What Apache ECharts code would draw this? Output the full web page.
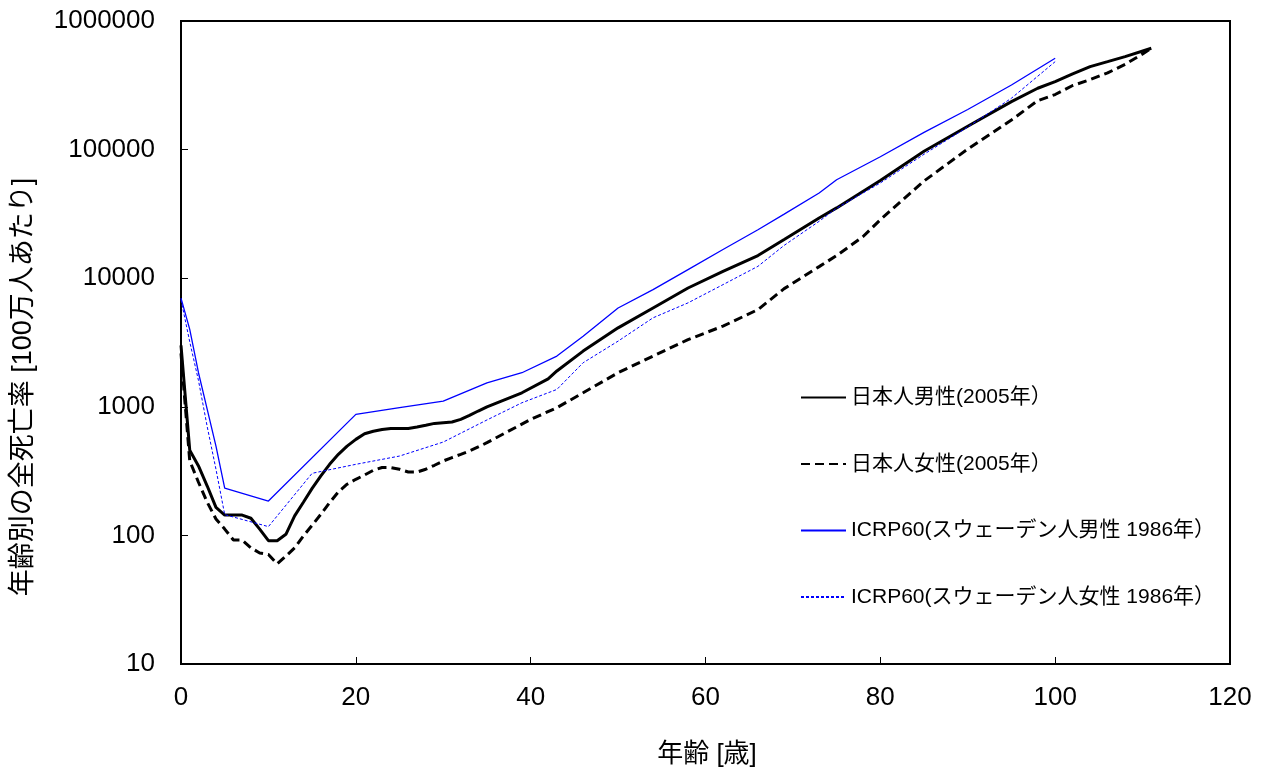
<!DOCTYPE html>
<html>
<head>
<meta charset="utf-8">
<title>年齢別の全死亡率</title>
<style>
	html, body { margin: 0; padding: 0; background: #fff; }
	#chart { width: 1264px; height: 771px; }
</style>
</head>
<body>
	<div id="chart"></div>

	<script src="https://cdn.jsdelivr.net/npm/echarts@6/dist/echarts.min.js"></script>
	<script>
		// 日本人男性(2005年)
		var jpMaleAge = [0,1,2,3,4,5,6,7,8,9,10,11,12,13,14,15,16,17,18,19,20,21,22,23,24,25,26,27,28,29,30,31,32,33,34,35,39,42,43,46,50,54,58,62,66,69,73,75,78,80,85,90,95,98,100,102,104,106,108,111];
		var jpMaleVal = [3000,460,347,242,165,144,144,144,136,112,91,91,102,142,181,232,290,357,427,495,558,617,646,667,679,679,679,696,719,743,752,761,798,857,927,1000,1285,1650,1900,2710,4110,5870,8390,11320,15000,20000,29400,35200,47300,57500,97000,152000,236000,300000,338000,388000,442000,483000,528000,614000];

		// 日本人女性(2005年)
		var jpFemaleAge = [0,1,2,3,4,5,6,7,8,9,10,11,12,13,14,15,16,17,18,19,20,21,22,23,24,25,26,27,28,29,30,31,32,33,34,35,40,43,46,50,54,58,62,66,69,73,75,78,80,85,90,95,98,100,102,104,106,108,110,111];
		var jpFemaleVal = [2600,380,259,181,134,112,92,92,80,73,71,60,69,80,99,120,146,180,218,250,273,295,321,337,337,327,311,311,327,351,379,403,427,453,487,526,798,984,1285,1840,2480,3330,4240,5700,8300,12300,15000,21000,28500,57000,101000,170000,240000,268000,315000,350000,395000,460000,555000,614000];

		// ICRP60(スウェーデン人男性 1986年)
		var icrpMaleAge = [0,1,2,3,4,5,10,20,25,30,35,39,43,46,50,54,58,62,66,69,73,75,80,85,90,95,100];
		var icrpMaleVal = [7000,4000,1840,955,495,233,185,873,985,1107,1537,1840,2480,3540,5870,8150,11660,16700,23800,31500,46000,58300,88000,136000,205000,318000,513000];

		// ICRP60(スウェーデン人女性 1986年)
		var icrpFemaleAge = [0,1,2,3,4,5,10,15,20,25,30,35,39,43,46,50,54,58,62,66,69,73,75,80,85,90,95,100];
		var icrpFemaleVal = [6800,3200,1600,700,327,145,117,304,357,414,532,790,1075,1365,2200,3240,4920,6430,8910,12370,18000,27700,35000,55000,92000,150000,251000,483000];

		var xTicks = [0, 20, 40, 60, 80, 100, 120];

		function pairs(ages, vals) {
			return ages.map(function (a, i) { return [a, vals[i]]; });
		}

		var latin = '"Liberation Sans", "Noto Sans CJK JP", sans-serif';

		var option = {
			backgroundColor: '#fff',
			animation: false,
			textStyle: { fontFamily: latin, color: '#000' },
			grid: {
				left: 181, right: 34, top: 21, bottom: 107,
				show: true, borderColor: '#000', borderWidth: 2
			},
			legend: {
				orient: 'vertical',
				left: 800, top: 387,
				padding: 0,
				itemWidth: 45, itemHeight: 14,
				itemGap: 45.5,
				itemStyle: { opacity: 0, color: 'transparent', borderWidth: 0 },
				textStyle: { fontSize: 21, lineHeight: 21, color: '#000', fontFamily: latin },
				data: ['日本人男性(2005年）', '日本人女性(2005年）', 'ICRP60(スウェーデン人男性 1986年）', 'ICRP60(スウェーデン人女性 1986年）']
			},
			xAxis: {
				type: 'value',
				min: xTicks[0], max: xTicks[xTicks.length - 1], interval: 20,
				axisLine: { lineStyle: { color: '#000', width: 2 } },
				axisTick: { inside: true, length: 7, lineStyle: { color: '#000', width: 1 } },
				axisLabel: { fontSize: 26, color: '#000', margin: 21, fontFamily: latin },
				splitLine: { show: false }
			},
			yAxis: {
				type: 'log',
				logBase: 10,
				min: 10, max: 1000000,
				axisLine: { lineStyle: { color: '#000', width: 2 } },
				axisTick: { inside: true, length: 7, lineStyle: { color: '#000', width: 1 } },
				axisLabel: {
					fontSize: 26, color: '#000', margin: 26, fontFamily: latin,
					formatter: function (v) { return String(Math.round(v)); }
				},
				splitLine: { show: false }
			},
			graphic: [
				{
					type: 'text', x: 24, y: 387, rotation: Math.PI / 2,
					style: {
						text: '年齢別の全死亡率 [100万人あたり]',
						fontSize: 27, fontFamily: latin, fill: '#000',
						align: 'center', verticalAlign: 'middle'
					}
				},
				{
					type: 'text', x: 707, y: 755,
					style: {
						text: '年齢 [歳]',
						fontSize: 26, fontFamily: latin, fill: '#000',
						align: 'center', verticalAlign: 'middle'
					}
				}
			],
			series: [
				{
					name: '日本人男性(2005年）', type: 'line', symbol: 'none',
					color: '#000',
					lineStyle: { color: '#000', width: 3 },
					data: pairs(jpMaleAge, jpMaleVal)
				},
				{
					name: '日本人女性(2005年）', type: 'line', symbol: 'none',
					color: '#000',
					lineStyle: { color: '#000', width: 3, type: [9, 5] },
					data: pairs(jpFemaleAge, jpFemaleVal)
				},
				{
					name: 'ICRP60(スウェーデン人男性 1986年）', type: 'line', symbol: 'none',
					color: '#0000ff',
					lineStyle: { color: '#0000ff', width: 1.3 },
					data: pairs(icrpMaleAge, icrpMaleVal)
				},
				{
					name: 'ICRP60(スウェーデン人女性 1986年）', type: 'line', symbol: 'none',
					color: '#0000ff',
					lineStyle: { color: '#0000ff', width: 1, type: [3, 2] },
					data: pairs(icrpFemaleAge, icrpFemaleVal)
				}
			]
		};

		var chart = echarts.init(document.getElementById('chart'));
		chart.setOption(option);
	</script>
</body>
</html>
